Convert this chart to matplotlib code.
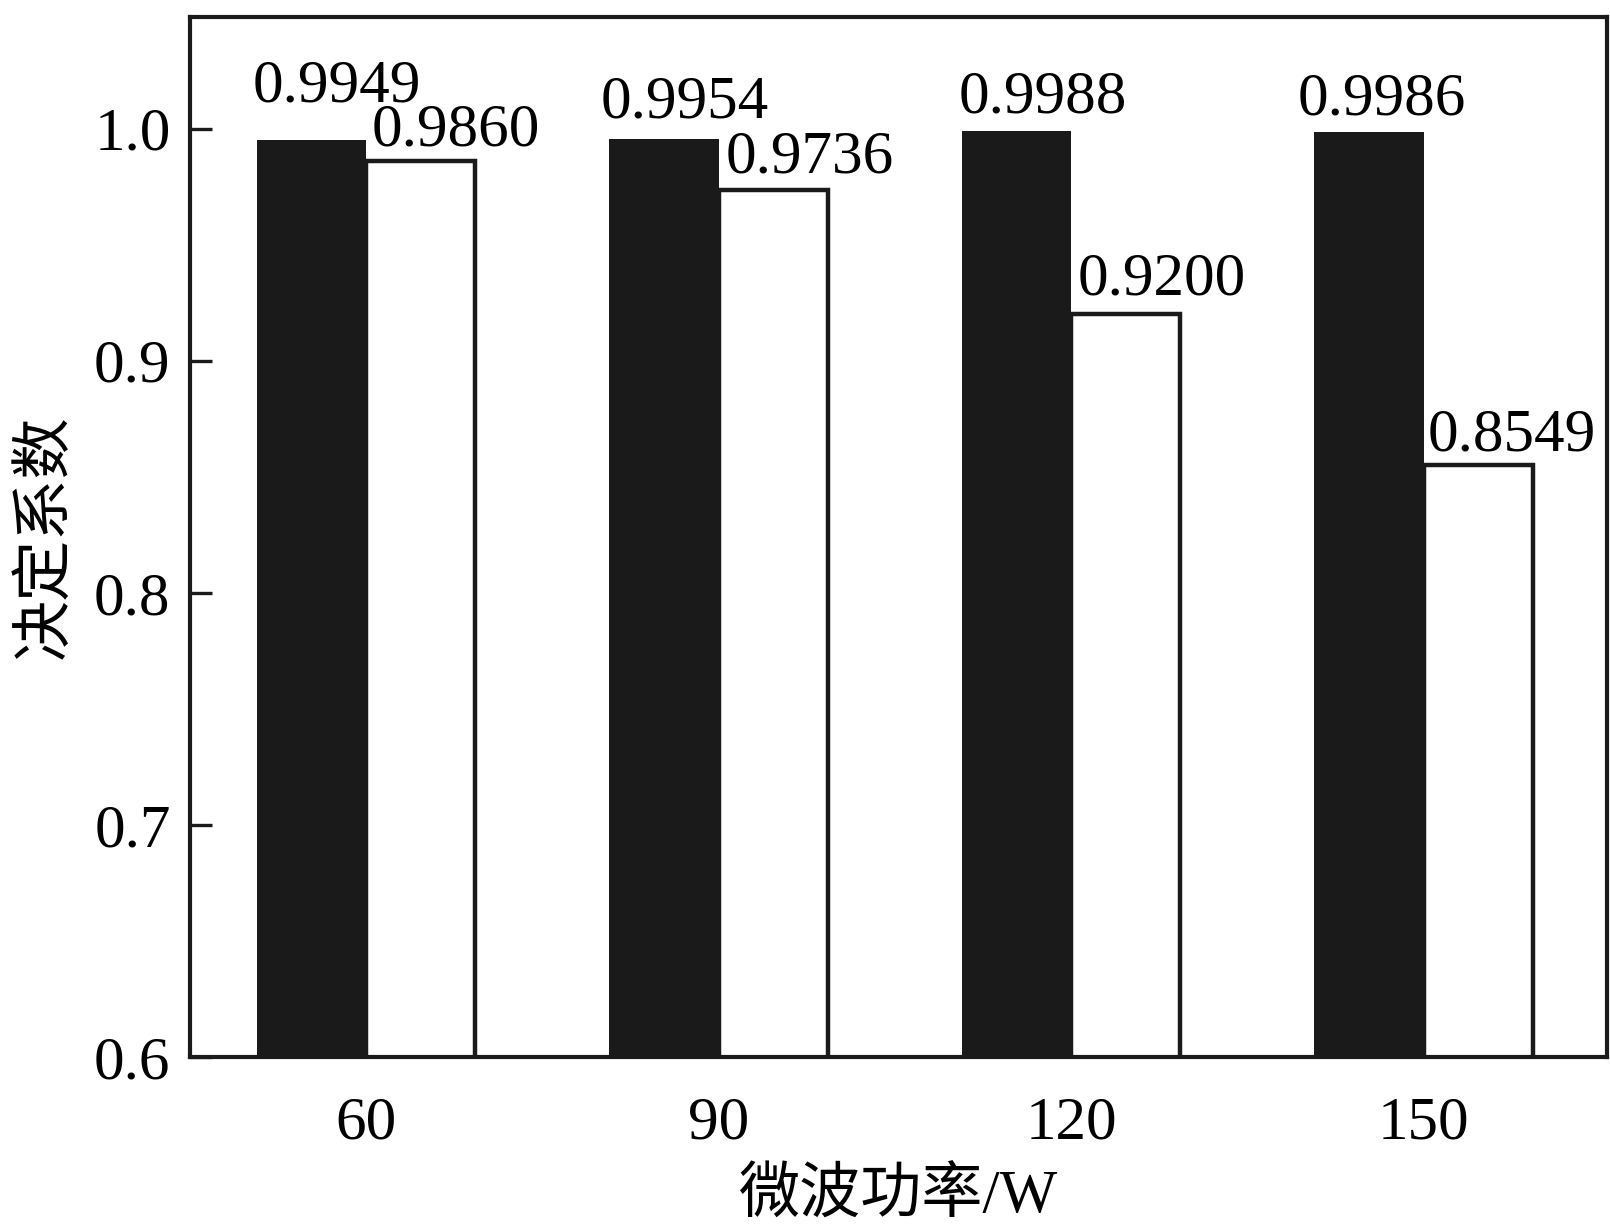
import matplotlib
matplotlib.use("Agg")
import matplotlib.pyplot as plt
import numpy as np

powers = ["60", "90", "120", "150"]
r2_black = [0.9949, 0.9954, 0.9988, 0.9986]
r2_white = [0.9860, 0.9736, 0.9200, 0.8549]
labels_black = ["0.9949", "0.9954", "0.9988", "0.9986"]
labels_white = ["0.9860", "0.9736", "0.9200", "0.8549"]

plt.rcParams['font.family'] = ['Liberation Serif', 'Noto Sans CJK SC']
plt.rcParams['font.size'] = 44

fig = plt.figure(figsize=(16.1, 12.3), dpi=100)
ax = fig.add_axes([0.118, 0.1407, 0.880, 0.8453])

x = np.arange(len(powers))
w = 0.31
bb = ax.bar(x - w / 2, r2_black, w, color='#1a1a1a', linewidth=0)
bw = ax.bar(x + w / 2, r2_white, w, color='white', edgecolor='#1a1a1a', linewidth=3.2)

# label offsets (points) above each bar top
dy_black = [19, 6, 4, 3]
dy_white = [2, 3, 5, 1]
dx_black = [-3, -6, -2, -12]
dx_white = [4, 5, 5, 3]
for rect, txt, dx, dy in zip(bb, labels_black, dx_black, dy_black):
    ax.annotate(txt, (rect.get_x(), rect.get_height()), xytext=(dx, dy),
                textcoords='offset points', ha='left', va='bottom')
for rect, txt, dx, dy in zip(bw, labels_white, dx_white, dy_white):
    ax.annotate(txt, (rect.get_x(), rect.get_height()), xytext=(dx, dy),
                textcoords='offset points', ha='left', va='bottom')

ax.set_xlim(-0.5, 3.52)
ax.set_ylim(0.6, 1.048)
ax.set_yticks([0.6, 0.7, 0.8, 0.9, 1.0])
ax.set_yticklabels(["0.6", "0.7", "0.8", "0.9", "1.0"])
ax.set_xticks(x)
ax.set_xticklabels(powers)
ax.tick_params(axis='y', direction='in', length=16, width=2.4, pad=14,
               color='#1a1a1a')
ax.tick_params(axis='x', length=0, pad=28)
for s in ax.spines.values():
    s.set_linewidth(3)
    s.set_color('#1a1a1a')

ax.set_xlabel("微波功率/W", labelpad=12)
ax.set_ylabel("决定系数", labelpad=14)

fig.savefig("out.png", dpi=100)
